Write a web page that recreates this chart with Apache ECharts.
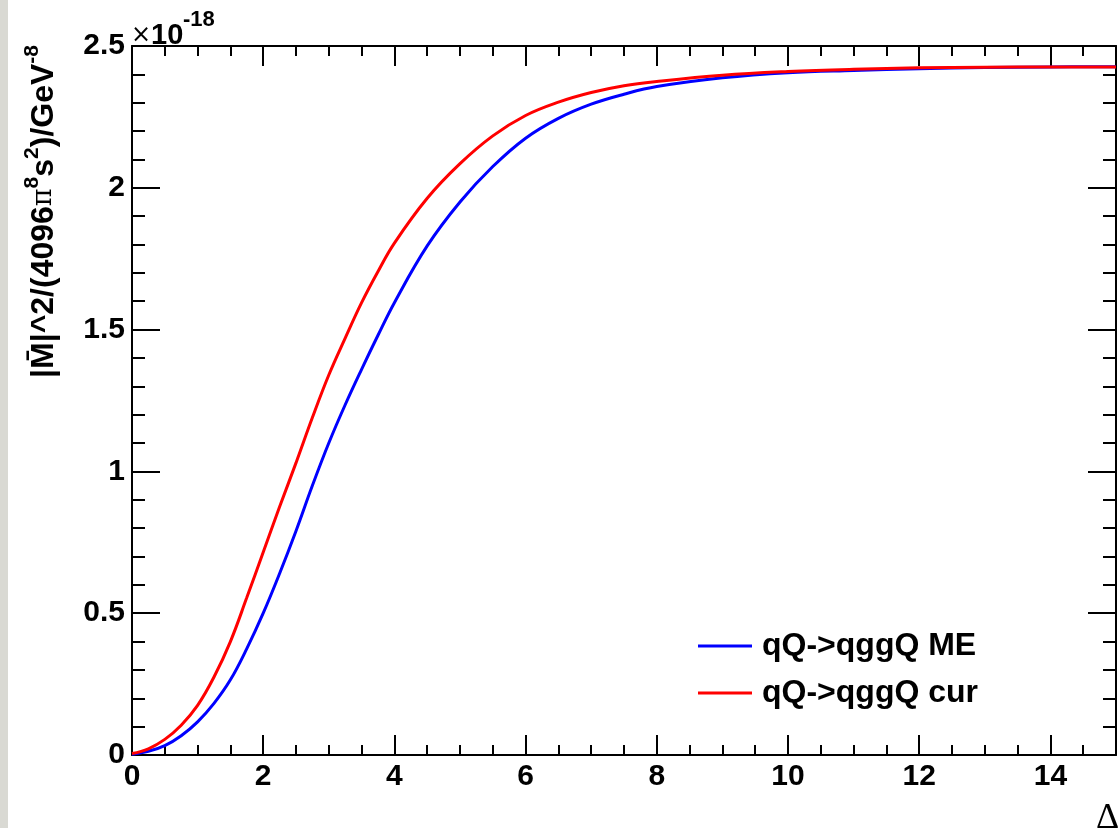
<!DOCTYPE html>
<html>
<head>
<meta charset="utf-8">
<script src="https://cdn.jsdelivr.net/npm/echarts@6/dist/echarts.min.js"></script>
<style>
html,body{margin:0;padding:0;background:#fff;}
#c{width:1118px;height:828px;}
</style>
</head>
<body>
<div id="c"></div>
<script>
// x values (Delta) and curve values in units of 1e-18
const xME  = [0, 0.25, 0.5, 0.75, 1, 1.25, 1.5, 1.75, 2, 2.25, 2.5, 2.75, 3, 3.25, 3.5, 3.75, 4, 4.5, 5, 5.5, 6, 6.5, 7, 7.5, 8, 9, 10, 11, 12, 13, 14, 15];
const valME = [0.003, 0.013, 0.033, 0.068, 0.117, 0.182, 0.265, 0.375, 0.50, 0.64, 0.79, 0.95, 1.10, 1.235, 1.36, 1.48, 1.595, 1.795, 1.95, 2.075, 2.175, 2.245, 2.295, 2.33, 2.357, 2.388, 2.406, 2.414, 2.42, 2.424, 2.426, 2.427];
const xCur = [0, 0.25, 0.5, 0.75, 1, 1.25, 1.5, 1.75, 2, 2.25, 2.5, 2.75, 3, 3.25, 3.5, 3.75, 4, 4.5, 5, 5.5, 6, 6.5, 7, 7.5, 8, 9, 10, 11, 12, 13, 14, 15];
const valCur = [0.005, 0.022, 0.055, 0.105, 0.175, 0.275, 0.40, 0.555, 0.715, 0.875, 1.03, 1.19, 1.34, 1.47, 1.595, 1.705, 1.805, 1.963, 2.085, 2.183, 2.255, 2.302, 2.336, 2.36, 2.375, 2.397, 2.41, 2.418, 2.423, 2.425, 2.426, 2.426];
const seriesNames = ['qQ->qggQ ME', 'qQ->qggQ cur'];
const seriesColors = ['#0000ff', '#ff0000'];
const xTitle = 'Δ';
const exponentBase = '10';
const exponentPower = '-18';

const chart = echarts.init(document.getElementById('c'), null, {renderer: 'canvas'});
const FONT = 'Liberation Sans';
const black = '#000';
const G = {left: 132, right: 2, top: 46, bottom: 73, containLabel: false};

function xAx(grid, pos, interval, tickLen, showLine, showLabel) {
  return {
    type: 'value', gridIndex: grid, position: pos, min: 0, max: 15, interval: interval,
    axisLine: {show: showLine, onZero: false, lineStyle: {color: black, width: 2}},
    axisTick: {show: true, inside: true, length: tickLen, lineStyle: {color: black, width: 2}},
    axisLabel: {show: showLabel, color: black, fontSize: 30, fontWeight: 'bold', fontFamily: FONT, margin: 7, showMaxLabel: false},
    splitLine: {show: false}
  };
}
function yAx(grid, pos, interval, tickLen, showLine, showLabel) {
  return {
    type: 'value', gridIndex: grid, position: pos, min: 0, max: 2.5, interval: interval,
    axisLine: {show: showLine, onZero: false, lineStyle: {color: black, width: 2}},
    axisTick: {show: true, inside: true, length: tickLen, lineStyle: {color: black, width: 2}},
    axisLabel: {show: showLabel, color: black, fontSize: 30, fontWeight: 'bold', fontFamily: FONT, margin: 7},
    splitLine: {show: false}
  };
}

const option = {
  backgroundColor: '#ffffff',
  animation: false,
  grid: [Object.assign({}, G), Object.assign({}, G)],
  xAxis: [
    xAx(0, 'bottom', 2, 20, true, true),
    xAx(0, 'top', 2, 20, true, false),
    xAx(1, 'bottom', 0.5, 10, false, false),
    xAx(1, 'top', 0.5, 10, false, false)
  ],
  yAxis: [
    yAx(0, 'left', 0.5, 28, true, true),
    yAx(0, 'right', 0.5, 28, true, false),
    yAx(1, 'left', 0.1, 13, false, false),
    yAx(1, 'right', 0.1, 13, false, false)
  ],
  legend: {
    orient: 'vertical', left: 698, top: 630, padding: 0,
    icon: 'rect', itemWidth: 54, itemHeight: 3, itemGap: 15,
    data: seriesNames,
    textStyle: {color: black, fontSize: 32, fontWeight: 'bold', fontFamily: FONT, lineHeight: 30, padding: [0, 0, 0, 5]}
  },
  series: [
    {
      name: seriesNames[0], type: 'line', xAxisIndex: 0, yAxisIndex: 0,
      data: xME.map((x, i) => [x, valME[i]]),
      showSymbol: false, smooth: 0.4,
      lineStyle: {color: seriesColors[0], width: 3}, itemStyle: {color: seriesColors[0]}
    },
    {
      name: seriesNames[1], type: 'line', xAxisIndex: 0, yAxisIndex: 0,
      data: xCur.map((x, i) => [x, valCur[i]]),
      showSymbol: false, smooth: 0.4,
      lineStyle: {color: seriesColors[1], width: 3}, itemStyle: {color: seriesColors[1]}
    }
  ],
  graphic: [
    {type: 'rect', left: 0, top: 0, shape: {width: 8, height: 828}, style: {fill: '#d9d9d3'}, silent: true},
    {
      type: 'text', x: 131, y: 36,
      style: {
        text: '{t|×}{b|' + exponentBase + '}', verticalAlign: 'middle', align: 'left',
        rich: {
          t: {fontSize: 24, fontFamily: 'DejaVu Sans', fill: black, fontWeight: 'normal'},
          b: {fontSize: 29, fontFamily: FONT, fontWeight: 'bold', fill: black}
        }
      }
    },
    {
      type: 'text', x: 183, y: 20,
      style: {text: exponentPower, fontSize: 22, fontFamily: FONT, fontWeight: 'bold', fill: black, verticalAlign: 'middle', align: 'left'}
    },
    {
      type: 'text', x: 44, y: 45, rotation: Math.PI / 2,
      style: {
        text: '{m||M\u0304|^2/(4096}{p|π}{s|8}{m|s}{s|2}{m|)/GeV}{s|-8}',
        align: 'right', verticalAlign: 'middle',
        rich: {
          m: {fontSize: 32, fontFamily: FONT, fontWeight: 'bold', fill: black, lineHeight: 40},
          p: {fontSize: 27, fontFamily: 'DejaVu Serif', fontWeight: 'normal', fill: black, lineHeight: 40},
          s: {fontSize: 21, fontFamily: FONT, fontWeight: 'bold', fill: black, padding: [0, 0, 24, 0], lineHeight: 20}
        }
      }
    },
    {
      type: 'text', x: 1096, y: 801,
      style: {text: xTitle, fontSize: 36, fontFamily: 'Liberation Serif', fill: black, align: 'left', verticalAlign: 'top'}
    }
  ]
};
chart.setOption(option);
</script>
</body>
</html>
